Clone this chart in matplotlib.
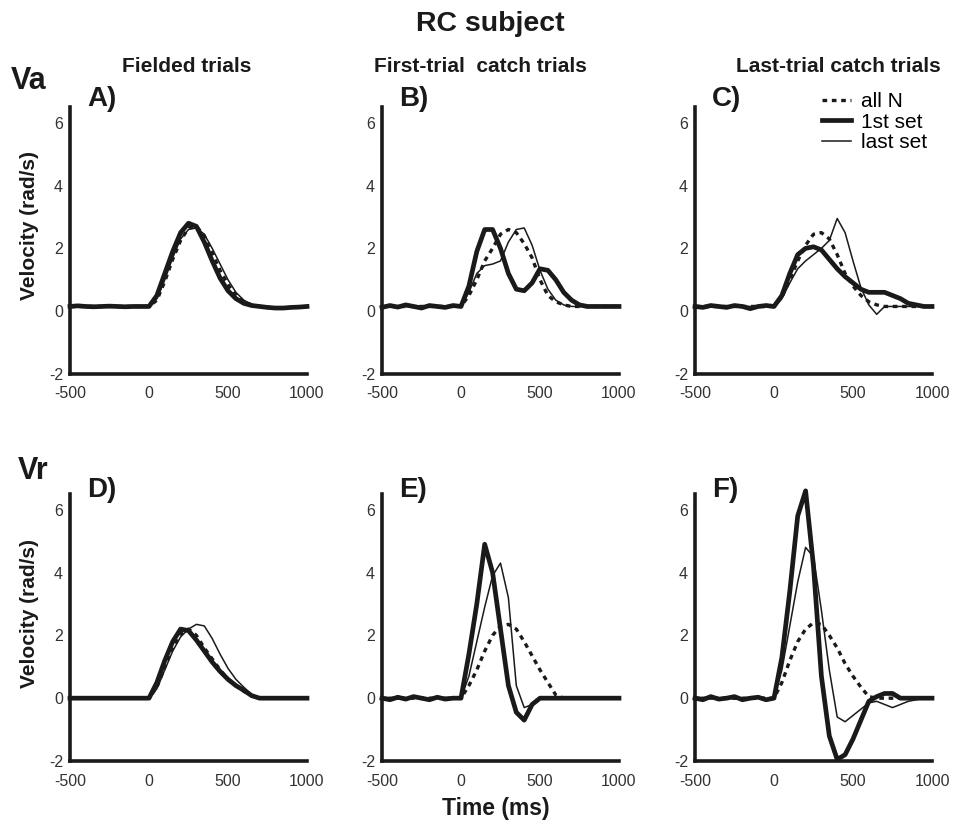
import matplotlib
matplotlib.use("Agg")
import matplotlib.pyplot as plt
from matplotlib.lines import Line2D

plt.rcParams['font.family'] = ['Liberation Sans', 'DejaVu Sans']
plt.rcParams['axes.unicode_minus'] = False

# time base (ms), one sample every 50 ms
t = list(range(-500, 1001, 50))

# Va - fielded trials
va_fielded_all = [0.15, 0.15, 0.15, 0.15, 0.15, 0.15, 0.15, 0.15, 0.15, 0.15, 0.15,
                  0.35, 0.95, 1.65, 2.25, 2.65, 2.7, 2.4, 1.85, 1.3, 0.85,
                  0.5, 0.3, 0.2, 0.15, 0.12, 0.1, 0.1, 0.12, 0.13, 0.15]
va_fielded_first = [0.15, 0.17, 0.15, 0.14, 0.15, 0.16, 0.15, 0.14, 0.15, 0.15, 0.15,
                    0.5, 1.2, 1.9, 2.5, 2.8, 2.7, 2.2, 1.6, 1.05, 0.65,
                    0.4, 0.25, 0.18, 0.15, 0.12, 0.1, 0.1, 0.12, 0.13, 0.15]
va_fielded_last = [0.15, 0.15, 0.15, 0.15, 0.15, 0.15, 0.15, 0.15, 0.15, 0.15, 0.15,
                   0.4, 1.0, 1.7, 2.3, 2.6, 2.65, 2.45, 2.0, 1.5, 1.0,
                   0.6, 0.35, 0.22, 0.15, 0.12, 0.1, 0.1, 0.12, 0.13, 0.15]

# Va - first-trial catch trials
va_first_all = [0.15, 0.15, 0.15, 0.15, 0.15, 0.15, 0.15, 0.15, 0.15, 0.15, 0.15,
                0.5, 1.0, 1.6, 2.0, 2.45, 2.6, 2.5, 2.15, 1.7, 1.0,
                0.5, 0.3, 0.2, 0.15, 0.15, 0.15, 0.15, 0.15, 0.15, 0.15]
va_first_first = [0.12, 0.18, 0.13, 0.2, 0.15, 0.1, 0.18, 0.15, 0.12, 0.18, 0.15,
                  0.8, 1.9, 2.6, 2.6, 2.0, 1.2, 0.7, 0.65, 0.9, 1.35,
                  1.3, 1.0, 0.6, 0.35, 0.2, 0.15, 0.15, 0.15, 0.15, 0.15]
va_first_last = [0.15, 0.12, 0.18, 0.15, 0.12, 0.15, 0.18, 0.12, 0.15, 0.12, 0.15,
                 0.6, 1.2, 1.45, 1.5, 1.6, 2.2, 2.6, 2.65, 2.1, 1.3,
                 0.7, 0.35, 0.2, 0.15, 0.15, 0.15, 0.15, 0.15, 0.15, 0.15]

# Va - last-trial catch trials
va_last_all = [0.15, 0.15, 0.15, 0.15, 0.15, 0.15, 0.15, 0.15, 0.15, 0.15, 0.15,
               0.45, 1.0, 1.6, 2.1, 2.45, 2.5, 2.3, 1.8, 1.2, 0.8,
               0.5, 0.3, 0.2, 0.15, 0.15, 0.15, 0.15, 0.15, 0.15, 0.15]
va_last_first = [0.15, 0.12, 0.18, 0.15, 0.12, 0.18, 0.15, 0.08, 0.15, 0.18, 0.15,
                 0.5, 1.2, 1.8, 2.0, 2.05, 1.95, 1.65, 1.35, 1.1, 0.9,
                 0.7, 0.6, 0.6, 0.6, 0.5, 0.4, 0.25, 0.2, 0.15, 0.15]
va_last_last = [0.15, 0.15, 0.15, 0.15, 0.15, 0.15, 0.15, 0.15, 0.15, 0.15, 0.15,
                0.4, 0.9, 1.35, 1.6, 1.8, 2.0, 2.25, 2.95, 2.5, 1.6,
                0.75, 0.2, -0.1, 0.15, 0.15, 0.15, 0.15, 0.15, 0.15, 0.15]

# Vr - fielded trials
vr_fielded_all = [0, 0, 0, 0, 0, 0, 0, 0, 0, 0, 0,
                  0.35, 1.0, 1.6, 2.05, 2.2, 2.0, 1.6, 1.25, 0.9, 0.6,
                  0.4, 0.22, 0.08, 0, 0, 0, 0, 0, 0, 0]
vr_fielded_first = [0, 0, 0, 0, 0, 0, 0, 0, 0, 0, 0,
                    0.5, 1.2, 1.8, 2.2, 2.15, 1.85, 1.5, 1.15, 0.85, 0.6,
                    0.4, 0.25, 0.08, 0, 0, 0, 0, 0, 0, 0]
vr_fielded_last = [0, 0, 0, 0, 0, 0, 0, 0, 0, 0, 0,
                   0.3, 0.9, 1.5, 1.95, 2.2, 2.35, 2.3, 1.9, 1.4, 0.95,
                   0.6, 0.35, 0.12, 0, 0, 0, 0, 0, 0, 0]

# Vr - first-trial catch trials
vr_first_all = [0, 0, 0, 0, 0, 0, 0, 0, 0, 0, 0,
                0.4, 0.9, 1.5, 2.0, 2.3, 2.35, 2.2, 1.8, 1.35, 0.9,
                0.5, 0.1, 0, 0, 0, 0, 0, 0, 0, 0]
vr_first_first = [0.0, -0.05, 0.03, -0.03, 0.05, 0.0, -0.05, 0.03, -0.03, 0.0, 0.0,
                  1.4, 3.0, 4.9, 4.0, 2.2, 0.4, -0.45, -0.7, -0.2, 0,
                  0, 0, 0, 0, 0, 0, 0, 0, 0, 0]
vr_first_last = [0.0, 0.03, -0.03, 0.0, 0.03, 0.0, -0.03, 0.0, 0.03, 0.0, 0.0,
                 0.7, 1.8, 2.9, 3.9, 4.3, 3.2, 0.4, -0.3, -0.2, 0,
                 0, 0, 0, 0, 0, 0, 0, 0, 0, 0]

# Vr - last-trial catch trials
vr_last_all = [0, 0, 0, 0, 0, 0, 0, 0, 0, 0, 0,
               0.5, 1.2, 1.8, 2.2, 2.4, 2.35, 2.0, 1.6, 1.1, 0.7,
               0.35, 0.05, 0, 0, 0, 0, 0, 0, 0, 0]
vr_last_first = [0.0, -0.05, 0.05, -0.03, 0.0, 0.05, -0.05, 0.0, 0.03, -0.05, 0.0,
                 1.3, 3.4, 5.8, 6.6, 4.2, 0.7, -1.2, -1.95, -1.8, -1.3,
                 -0.7, -0.1, 0.05, 0.15, 0.15, 0, 0, 0, 0, 0]
vr_last_last = [0.0, 0.03, -0.03, 0.0, 0.03, -0.03, 0.0, 0.03, 0.0, -0.03, 0.0,
                0.9, 2.3, 3.7, 4.8, 4.5, 2.8, 0.9, -0.6, -0.75, -0.55,
                -0.35, -0.15, -0.1, -0.2, -0.3, -0.2, -0.1, -0.05, 0, 0]

panels = [
    ("A)", va_fielded_all, va_fielded_first, va_fielded_last),
    ("B)", va_first_all, va_first_first, va_first_last),
    ("C)", va_last_all, va_last_first, va_last_last),
    ("D)", vr_fielded_all, vr_fielded_first, vr_fielded_last),
    ("E)", vr_first_all, vr_first_first, vr_first_last),
    ("F)", vr_last_all, vr_last_first, vr_last_last),
]
col_titles = ["Fielded trials", "First-trial  catch trials", "Last-trial catch trials"]

ink = "#1a1a1a"
W, H = 957, 827
fig = plt.figure(figsize=(W / 100, H / 100), dpi=100)

# panel geometry in pixels
lefts = [70, 382, 695]
bottoms = [374, 761]
tag_base = [106, 497]
axw, axh = 237, 267

dash = (0, (1.4, 1.4))

for i, (tag, all_n, first, last) in enumerate(panels):
    r, c = divmod(i, 3)
    ax = fig.add_axes([lefts[c] / W, 1 - bottoms[r] / H, axw / W, axh / H])
    ax.plot(t, all_n, color=ink, lw=2.4, ls=dash, clip_on=False)
    ax.plot(t, last, color=ink, lw=1.1, clip_on=False)
    ax.plot(t, first, color=ink, lw=3.4, clip_on=False, solid_joinstyle='round')
    ax.set_xlim(-500, 1000)
    ax.set_ylim(-2, 6.5)
    ax.set_xticks([-500, 0, 500, 1000])
    ax.set_yticks([-2, 0, 2, 4, 6])
    ax.tick_params(length=0, labelsize=11.5, labelcolor="#333333")
    ax.tick_params(axis='x', pad=9)
    ax.tick_params(axis='y', pad=5)
    for s in ['top', 'right']:
        ax.spines[s].set_visible(False)
    for s in ['left', 'bottom']:
        ax.spines[s].set_linewidth(2.6)
        ax.spines[s].set_color(ink)
    ax.patch.set_alpha(0)
    fig.text((lefts[c] + 17) / W, 1 - tag_base[r] / H, tag,
             fontsize=20, fontweight='bold', color=ink,
             va='baseline', ha='left')

fig.text(490 / W, 1 - 24 / H, "RC subject", ha='center', va='center',
         fontsize=20.5, fontweight='bold', color=ink)
for x, title in zip([187, 480, 838], col_titles):
    fig.text(x / W, 1 - 66 / H, title, ha='center', va='center',
             fontsize=15, fontweight='bold', color=ink)

fig.text(11 / W, 1 - 81 / H, "Va", ha='left', va='center',
         fontsize=22, fontweight='bold', color=ink)
fig.text(18 / W, 1 - 471 / H, "Vr", ha='left', va='center',
         fontsize=22, fontweight='bold', color=ink)

for yc in [225, 613]:
    fig.text(30 / W, 1 - yc / H, "Velocity (rad/s)", rotation=90,
             ha='center', va='center', fontsize=15, fontweight='bold', color=ink)

fig.text(496 / W, 1 - 808 / H, "Time (ms)", ha='center', va='center',
         fontsize=16.5, fontweight='bold', color=ink)

handles = [
    Line2D([], [], color=ink, lw=2.4, ls=dash),
    Line2D([], [], color=ink, lw=3.4),
    Line2D([], [], color=ink, lw=1.1),
]
fig.legend(handles, ["all N", "1st set", "last set"], loc='upper left',
           bbox_to_anchor=(822 / W, 1 - 92 / H), frameon=False,
           fontsize=15, handlelength=1.4, handletextpad=0.45,
           labelspacing=0.08, borderpad=0, borderaxespad=0)

fig.savefig("out.png", dpi=100)
